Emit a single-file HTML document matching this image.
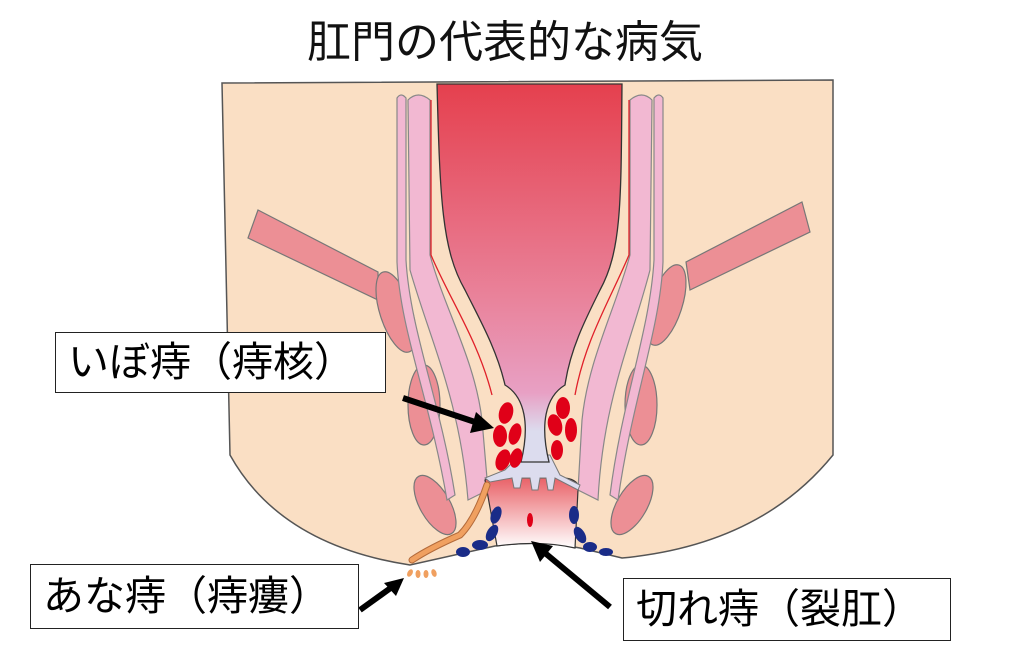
<!DOCTYPE html>
<html><head><meta charset="utf-8"><style>
body{margin:0;background:#fff;width:1024px;height:656px;overflow:hidden;font-family:"Liberation Sans","Noto Sans CJK JP",sans-serif}
.t{position:absolute;font-size:44px;line-height:1;color:#111;white-space:nowrap}
.b{position:absolute;border:1.5px solid #222;background:#fff;box-sizing:border-box;font-size:41px;line-height:1;padding-left:12px;display:flex;align-items:center;white-space:nowrap}
</style></head><body>
<div class="t" style="left:307px;top:21px;">肛門の代表的な病気</div>
<svg width="1024" height="656" style="position:absolute;left:0;top:0">
<defs>
<linearGradient id="r" gradientUnits="userSpaceOnUse" x1="0" y1="84" x2="0" y2="470"><stop offset="0" stop-color="#e5404e"/><stop offset="0.55" stop-color="#e9829a"/><stop offset="0.8" stop-color="#e8a0c4"/><stop offset="0.9" stop-color="#dcdcee"/><stop offset="1" stop-color="#dcdcee"/></linearGradient>
<linearGradient id="c" x1="0" y1="0" x2="0" y2="1"><stop offset="0" stop-color="#e85a60"/><stop offset="1" stop-color="#fff"/></linearGradient>
</defs>
<path d="M222,83 L833,80 L833,455 Q760,545 622,558 L580,548 Q540,540 495,546 L410,565 Q280,545 230,455 Z" fill="#fadfc4" stroke="#555" stroke-width="1.5"/>
<polygon points="258,210 378,272 378,300 248,238" fill="#ec8f95" stroke="#777" stroke-width="1.2"/>
<polygon points="802,202 810,232 690,290 686,262" fill="#ec8f95" stroke="#777" stroke-width="1.2"/>
<g fill="#ec8f95" stroke="#777" stroke-width="1.2">
<ellipse cx="396" cy="312" rx="16" ry="42" transform="rotate(-18 396 312)"/>
<ellipse cx="424" cy="405" rx="16" ry="40"/>
<ellipse cx="435" cy="505" rx="15" ry="33" transform="rotate(-30 435 505)"/>
<ellipse cx="666" cy="305" rx="16" ry="42" transform="rotate(18 666 305)"/>
<ellipse cx="641" cy="405" rx="16" ry="40"/>
<ellipse cx="632" cy="505" rx="15" ry="33" transform="rotate(30 632 505)"/>
</g>
<g fill="#f2b8d2" stroke="#888" stroke-width="1.2">
<path d="M397,98 Q401,92 406,98 L406,260 C410,330 440,400 455,495 L447,500 C430,400 400,330 397,262 Z"/>
<path d="M408,100 Q418,90 430,100 L430,255 C445,310 475,360 482,420 L488,490 L468,500 C460,400 430,340 410,270 Z"/>
<path d="M663,98 Q659,92 654,98 L654,260 C650,330 622,400 610,495 L618,500 C632,400 660,330 663,262 Z"/>
<path d="M652,100 Q642,90 630,100 L630,255 C615,310 588,360 582,420 L578,490 L598,500 C603,400 632,340 650,270 Z"/>
</g>
<path d="M485,480 Q500,470 520,478 L565,478 Q580,480 578,490 L575,548 Q540,540 497,546 Z" fill="url(#c)" stroke="#333" stroke-width="1.2"/>
<path d="M520,455 L550,455 L560,475 L580,485 L578,490 L555,478 L553,490 L548,490 L546,478 L540,478 L538,490 L532,490 L530,478 L522,478 L520,488 L514,488 L512,478 L490,482 L485,478 L505,470 Z" fill="#dcdcee" stroke="#777" stroke-width="1"/>
<path d="M437,84 L622,84 C621,200 622,250 600,290 C585,320 570,350 565,385 C545,397 540,425 549,462 L521,462 C530,425 525,397 505,385 C497,350 480,320 465,290 C442,250 440,200 437,84 Z" fill="url(#r)" stroke="#333" stroke-width="1.3"/>
<path d="M431,100 L431,255 C450,300 478,340 492,395" fill="none" stroke="#e0202a" stroke-width="1.3"/>
<path d="M629,100 L629,255 C610,300 585,340 575,395" fill="none" stroke="#e0202a" stroke-width="1.3"/>
<g fill="#e00018">
<ellipse cx="506" cy="413" rx="7" ry="11" transform="rotate(15 506 413)"/>
<ellipse cx="500" cy="436" rx="7" ry="11"/>
<ellipse cx="515" cy="434" rx="6" ry="11" transform="rotate(15 515 434)"/>
<ellipse cx="503" cy="460" rx="7" ry="11" transform="rotate(20 503 460)"/>
<ellipse cx="516" cy="458" rx="6" ry="10" transform="rotate(15 516 458)"/>
<ellipse cx="563" cy="408" rx="7" ry="11"/>
<ellipse cx="555" cy="425" rx="7" ry="11" transform="rotate(-15 555 425)"/>
<ellipse cx="571" cy="430" rx="6" ry="12"/>
<ellipse cx="557" cy="450" rx="6" ry="10"/>
<ellipse cx="530" cy="520" rx="3" ry="7"/>
</g>
<g fill="#1a2c88">
<ellipse cx="496" cy="515" rx="5" ry="9" transform="rotate(20 496 515)"/>
<ellipse cx="492" cy="533" rx="5" ry="9" transform="rotate(30 492 533)"/>
<ellipse cx="480" cy="545" rx="8" ry="5"/>
<ellipse cx="463" cy="552" rx="7" ry="5"/>
<ellipse cx="574" cy="515" rx="5" ry="9"/>
<ellipse cx="580" cy="535" rx="5" ry="9" transform="rotate(-30 580 535)"/>
<ellipse cx="590" cy="547" rx="7" ry="5"/>
<ellipse cx="606" cy="552" rx="7" ry="4"/>
</g>
<path d="M487,485 Q475,520 460,535 Q430,548 412,560" fill="none" stroke="#b36a3a" stroke-width="7" stroke-linecap="round"/>
<path d="M487,485 Q475,520 460,535 Q430,548 412,560" fill="none" stroke="#f0a060" stroke-width="5" stroke-linecap="round"/>
<g fill="#f0a060"><ellipse cx="410" cy="573" rx="2.5" ry="4" transform="rotate(30 410 573)"/><ellipse cx="418" cy="574" rx="2.5" ry="4"/><ellipse cx="426" cy="574" rx="2.5" ry="4"/><ellipse cx="434" cy="573" rx="2.5" ry="4" transform="rotate(-20 434 573)"/></g>
<g stroke="#000" stroke-width="6"><line x1="403" y1="398" x2="475" y2="422"/><line x1="360" y1="610" x2="392" y2="587"/><line x1="610" y1="607" x2="545" y2="553"/></g>
<g fill="#000"><polygon points="494,428 470,433 476,412"/><polygon points="404,578 384,583 396,596"/><polygon points="531,541 540,562 553,546"/></g>
</svg>
<div class="b" style="left:55px;top:332px;width:331px;height:61px;">いぼ痔（痔核）</div>
<div class="b" style="left:30px;top:564px;width:329px;height:65px;">あな痔（痔瘻）</div>
<div class="b" style="left:623px;top:578px;width:328px;height:63px;">切れ痔（裂肛）</div>
</body></html>
